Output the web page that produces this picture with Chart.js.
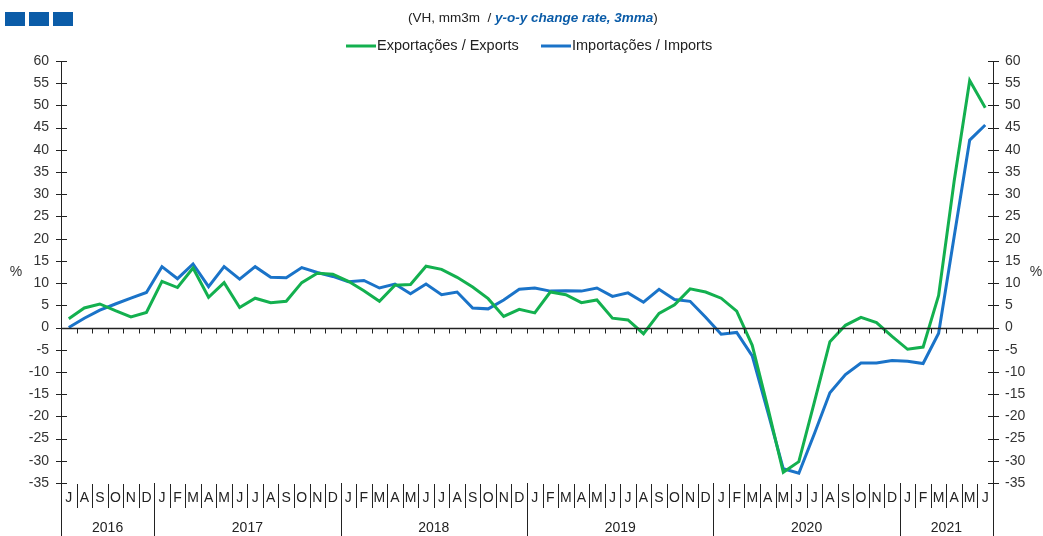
<!DOCTYPE html>
<html>
<head>
<meta charset="utf-8">
<script src="https://cdn.jsdelivr.net/npm/chart.js@4.4.1/dist/chart.umd.min.js"></script>
<style>
  html, body { margin: 0; padding: 0; background: #fff; }
  #wrap { width: 1043px; height: 536px; position: relative; }
</style>
</head>
<body>
<div id="wrap"><canvas id="tradeChart" width="1043" height="536"></canvas></div>
<script>
// Data - Jul 2016 to Jun 2021, y-o-y change rate (3mma)
const years = ['2016', '2017', '2018', '2019', '2020', '2021'];
const monthsInYear = [6, 12, 12, 12, 12, 6];
const monthLetters = [
    'J','A','S','O','N','D',
    'J','F','M','A','M','J','J','A','S','O','N','D',
    'J','F','M','A','M','J','J','A','S','O','N','D',
    'J','F','M','A','M','J','J','A','S','O','N','D',
    'J','F','M','A','M','J','J','A','S','O','N','D',
    'J','F','M','A','M','J'
];
const exportsData = [
    2.0, 4.4, 5.3, 3.8, 2.4, 3.4,
    10.4, 9.0, 13.4, 6.8, 10.1, 4.5, 6.6, 5.6, 5.9, 10.1, 12.2, 12.0,
    10.4, 8.3, 5.9, 9.5, 9.7, 13.8, 13.1, 11.3, 9.1, 6.5, 2.5, 4.1,
    3.3, 8.0, 7.4, 5.6, 6.2, 2.1, 1.7, -1.4, 3.2, 5.1, 8.7, 8.0,
    6.6, 3.7, -4.0, -18.0, -32.6, -30.2, -16.8, -3.2, 0.5, 2.3, 1.1, -2.0,
    -4.9, -4.4, 7.2, 33.0, 55.6, 49.5
];
const importsData = [
    0.0, 2.1, 3.9, 5.3, 6.6, 7.9,
    13.7, 11.0, 14.3, 9.2, 13.7, 10.9, 13.7, 11.3, 11.2, 13.5, 12.4, 11.5,
    10.3, 10.6, 8.9, 9.8, 7.6, 9.8, 7.4, 8.0, 4.4, 4.2, 6.2, 8.6,
    8.9, 8.2, 8.3, 8.2, 8.9, 7.0, 7.8, 5.7, 8.6, 6.3, 5.9, 2.3,
    -1.5, -1.1, -6.4, -19.0, -31.8, -32.8, -23.9, -14.7, -10.6, -8.0, -8.0, -7.4,
    -7.6, -8.1, -1.3, 20.5, 42.2, 45.6
];
const yTicks = [60, 55, 50, 45, 40, 35, 30, 25, 20, 15, 10, 5, 0, -5, -10, -15, -20, -25, -30, -35];

const GREEN = '#13b04f';
const BLUE = '#1a73c8';
const DARK_BLUE = '#0b5ca8';
const FONT = '"Liberation Sans", Arial, sans-serif';

// Extra drawing: header, legend, axis crosses, month/year labels
const overlayPlugin = {
    id: 'overlay',
    afterDraw(chart) {
        const ctx = chart.ctx;
        const a = chart.chartArea;
        const x = chart.scales.x;
        const y = chart.scales.y;
        const bottom = chart.height;
        ctx.save();

        // header squares
        ctx.fillStyle = DARK_BLUE;
        [5, 29, 53].forEach(sx => ctx.fillRect(sx, 12, 20, 14));

        // subtitle
        ctx.textBaseline = 'middle';
        ctx.textAlign = 'left';
        ctx.font = '13.5px ' + FONT;
        ctx.fillStyle = '#222';
        let tx = 408;
        const p1 = '(VH, mm3m  / ';
        ctx.fillText(p1, tx, 18);
        tx += ctx.measureText(p1).width;
        ctx.font = 'italic bold 13.5px ' + FONT;
        ctx.fillStyle = DARK_BLUE;
        const p2 = 'y-o-y change rate, 3mma';
        ctx.fillText(p2, tx, 18);
        tx += ctx.measureText(p2).width;
        ctx.font = '13.5px ' + FONT;
        ctx.fillStyle = '#222';
        ctx.fillText(')', tx, 18);

        // legend
        ctx.font = '14.5px ' + FONT;
        ctx.lineWidth = 3;
        ctx.strokeStyle = GREEN;
        ctx.beginPath(); ctx.moveTo(346, 46); ctx.lineTo(376, 46); ctx.stroke();
        ctx.fillStyle = '#222';
        ctx.fillText('Exportações / Exports', 377, 46);
        ctx.strokeStyle = BLUE;
        ctx.beginPath(); ctx.moveTo(541, 46); ctx.lineTo(571, 46); ctx.stroke();
        ctx.fillText('Importações / Imports', 572, 46);

        // % labels
        ctx.font = '14px ' + FONT;
        ctx.textAlign = 'center';
        ctx.fillStyle = '#333';
        ctx.fillText('%', 16, 272);
        ctx.fillText('%', 1036, 272);

        // vertical axes, extended down through the date labels
        ctx.strokeStyle = '#222';
        ctx.lineWidth = 1;
        ctx.beginPath();
        ctx.moveTo(a.left + 0.5, a.top); ctx.lineTo(a.left + 0.5, bottom);
        ctx.moveTo(a.right + 0.5, a.top); ctx.lineTo(a.right + 0.5, bottom);
        ctx.stroke();

        // cross ticks on the y axes
        ctx.beginPath();
        yTicks.forEach(v => {
            const py = Math.round(y.getPixelForValue(v)) + 0.5;
            ctx.moveTo(a.left - 5, py); ctx.lineTo(a.left + 6, py);
            ctx.moveTo(a.right - 5, py); ctx.lineTo(a.right + 6, py);
        });
        ctx.stroke();

        // zero line with month ticks
        const y0 = Math.round(y.getPixelForValue(0)) + 0.5;
        ctx.lineWidth = 1.5;
        ctx.beginPath();
        ctx.moveTo(a.left, y0); ctx.lineTo(a.right, y0);
        ctx.stroke();
        ctx.lineWidth = 1;
        const step = x.getPixelForValue(1) - x.getPixelForValue(0);
        ctx.beginPath();
        for (let i = 1; i < monthLetters.length; i++) {
            const bx = Math.round(x.getPixelForValue(i) - step / 2) + 0.5;
            ctx.moveTo(bx, y0); ctx.lineTo(bx, y0 + 5);
        }
        ctx.stroke();

        // month letters and separators
        ctx.font = '14px ' + FONT;
        ctx.fillStyle = '#222';
        ctx.textAlign = 'center';
        ctx.beginPath();
        monthLetters.forEach((m, i) => {
            const cx = x.getPixelForValue(i);
            ctx.fillText(m, cx, a.bottom + 15);
            if (i > 0) {
                const bx = Math.round(cx - step / 2) + 0.5;
                ctx.moveTo(bx, a.bottom + 1); ctx.lineTo(bx, a.bottom + 25);
            }
        });
        ctx.stroke();

        // year labels and long separators
        let start = 0;
        ctx.beginPath();
        years.forEach((yr, k) => {
            const n = monthsInYear[k];
            const left = x.getPixelForValue(start) - step / 2;
            const right = x.getPixelForValue(start + n - 1) + step / 2;
            ctx.fillText(yr, (left + right) / 2, a.bottom + 45);
            if (start > 0) {
                const bx = Math.round(left) + 0.5;
                ctx.moveTo(bx, a.bottom); ctx.lineTo(bx, bottom);
            }
            start += n;
        });
        ctx.stroke();

        ctx.restore();
    }
};

function initTradeChart() {
    const ctx = document.getElementById('tradeChart').getContext('2d');
    const tickFont = { family: FONT, size: 14 };

    new Chart(ctx, {
        type: 'line',
        data: {
            labels: monthLetters.map((m, i) => m + i),
            datasets: [
                {
                    label: 'Exportações / Exports',
                    data: exportsData,
                    borderColor: GREEN,
                    borderWidth: 3,
                    pointRadius: 0,
                    tension: 0,
                    fill: false
                },
                {
                    label: 'Importações / Imports',
                    data: importsData,
                    borderColor: BLUE,
                    borderWidth: 3,
                    pointRadius: 0,
                    tension: 0,
                    fill: false
                }
            ]
        },
        options: {
            responsive: false,
            animation: false,
            layout: { padding: { top: 61, bottom: 53, left: 0, right: 0 } },
            plugins: {
                legend: { display: false },
                tooltip: { enabled: false }
            },
            scales: {
                x: {
                    display: false,
                    offset: true
                },
                y: {
                    position: 'left',
                    min: -35,
                    max: 60,
                    afterFit: s => { s.width = 61; },
                    afterBuildTicks: s => { s.ticks = yTicks.map(v => ({ value: v })); },
                    grid: { display: false, drawTicks: false },
                    border: { display: false },
                    ticks: { font: tickFont, color: '#333', padding: 12 }
                },
                y1: {
                    position: 'right',
                    min: -35,
                    max: 60,
                    afterFit: s => { s.width = 50; },
                    afterBuildTicks: s => { s.ticks = yTicks.map(v => ({ value: v })); },
                    grid: { display: false, drawTicks: false },
                    border: { display: false },
                    ticks: { font: tickFont, color: '#333', padding: 12 }
                }
            }
        },
        plugins: [overlayPlugin]
    });
}

document.addEventListener('DOMContentLoaded', initTradeChart);
</script>
</body>
</html>
